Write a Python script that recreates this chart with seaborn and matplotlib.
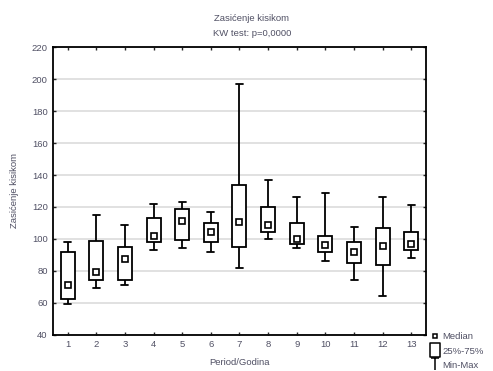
import numpy as np
import pandas as pd
import matplotlib
matplotlib.use("Agg")
import matplotlib.pyplot as plt
from matplotlib.lines import Line2D
from matplotlib.path import Path
import seaborn as sns

# podaci po periodu: min, Q1, medijan, Q3, max
periods = [str(i) for i in range(1, 14)]
v_min = [59, 69, 71, 93, 94, 92, 82, 100, 94, 86, 74, 64.5, 88]
v_q1 = [62.5, 74, 74, 97.8, 99, 97.8, 95, 104, 97, 92, 84.7, 83.5, 93]
v_med = [71, 79.5, 87.5, 101.5, 111.5, 104.5, 110.5, 108.5, 99.8, 96.2, 92, 95.5, 96.5]
v_q3 = [91.5, 98.7, 94.8, 113, 119, 109.8, 133.8, 120, 109.8, 102, 98.3, 106.8, 104.6]
v_max = [97.8, 115, 108.7, 122, 123, 116.8, 197, 137, 126, 129, 107.6, 126, 121.4]
y_ticks = list(range(40, 221, 20))

# long format: pet vrijednosti po grupi daju tocno min/Q1/med/Q3/max
rows = []
for p, a, b, c, d, e in zip(periods, v_min, v_q1, v_med, v_q3, v_max):
    for v in (a, b, c, d, e):
        rows.append({"period": p, "value": v})
df = pd.DataFrame(rows)
df_med = pd.DataFrame({"period": periods, "median": v_med})

sns.set_style("ticks")
plt.rcParams["font.family"] = ["Liberation Sans", "DejaVu Sans"]
txt_col = "#505064"
fs = 6.8

fig = plt.figure(figsize=(4.93, 3.71), dpi=100)
ax = fig.add_axes([0.108, 0.098, 0.7555, 0.7745])

sns.boxplot(data=df, x="period", y="value", order=periods, whis=(0, 100),
            width=0.49, color="white", linecolor="black", linewidth=1.3,
            fliersize=0, medianprops={"visible": False}, ax=ax)
sns.pointplot(data=df_med, x="period", y="median", order=periods,
              linestyle="none", marker="s", markersize=4.0,
              markerfacecolor="white", markeredgecolor="black",
              markeredgewidth=1.2, color="black", errorbar=None, ax=ax)

ax.set_xlim(-0.5, len(periods) - 0.5)
ax.set_ylim(40, 220)
ax.set_yticks(y_ticks)
ax.grid(axis="y", color="#d9d9d9", linewidth=1.1)
ax.set_axisbelow(True)
for s in ax.spines.values():
    s.set_visible(True)
    s.set_color("black")
    s.set_linewidth(1.3)
ax.tick_params(direction="in", top=True, right=True, length=2.5, width=1.0,
               labelsize=fs, labelcolor=txt_col, pad=4)
ax.set_xlabel("Period/Godina", fontsize=fs, color=txt_col, labelpad=6)
ax.set_ylabel("Zasićenje kisikom", fontsize=fs, color=txt_col, labelpad=9)

fig.text(0.511, 0.951, "Zasićenje kisikom", ha="center", va="center",
         fontsize=fs, color=txt_col)
fig.text(0.511, 0.911, "KW test: p=0,0000", ha="center", va="center",
         fontsize=fs, color=txt_col)

# legenda
rect = Path([(-0.35, -0.5), (0.35, -0.5), (0.35, 0.5), (-0.35, 0.5), (-0.35, -0.5)],
            [Path.MOVETO, Path.LINETO, Path.LINETO, Path.LINETO, Path.CLOSEPOLY])
tee = Path([(-0.4, 0.5), (0.4, 0.5), (0, 0.5), (0, -0.5)],
           [Path.MOVETO, Path.LINETO, Path.MOVETO, Path.LINETO])
handles = [
    Line2D([], [], linestyle="none", marker="s", markersize=3.2,
           markerfacecolor="white", markeredgecolor="black", markeredgewidth=1.1),
    Line2D([], [], linestyle="none", marker=rect, markersize=10,
           markerfacecolor="white", markeredgecolor="black", markeredgewidth=1.1),
    Line2D([], [], linestyle="none", marker=tee, markersize=8,
           markerfacecolor="none", markeredgecolor="black", markeredgewidth=1.1),
]
leg = fig.legend(handles, ["Median", "25%-75%", "Min-Max"], loc="upper left",
                 bbox_to_anchor=(0.874, 0.104), frameon=False, fontsize=fs,
                 handlelength=0.8, handletextpad=0.45, labelspacing=0.55,
                 borderaxespad=0, borderpad=0)
for t in leg.get_texts():
    t.set_color(txt_col)

fig.savefig("out.png", dpi=100)
